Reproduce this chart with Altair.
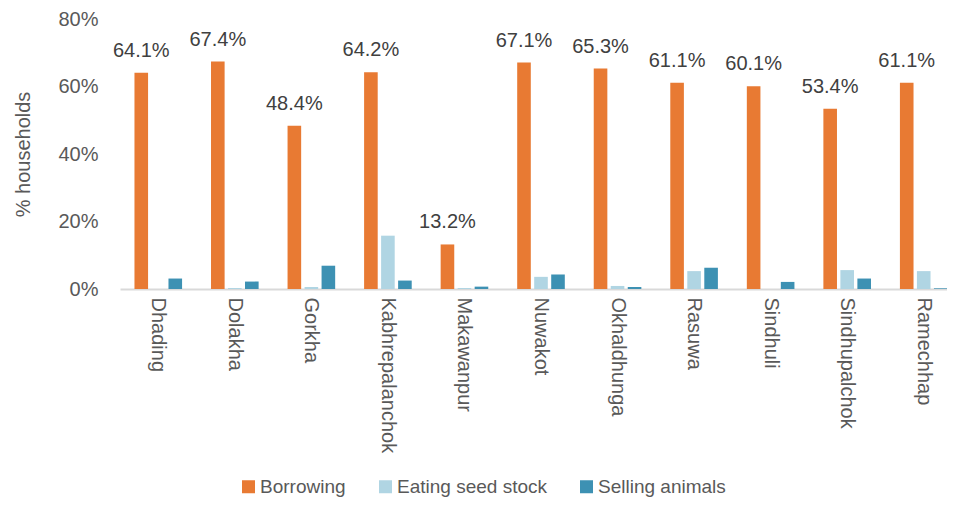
import altair as alt
import pandas as pd

districts = ["Dhading", "Dolakha", "Gorkha", "Kabhrepalanchok", "Makawanpur", "Nuwakot",
             "Okhaldhunga", "Rasuwa", "Sindhuli", "Sindhupalchok", "Ramechhap"]
borrowing = [64.1, 67.4, 48.4, 64.2, 13.2, 67.1, 65.3, 61.1, 60.1, 53.4, 61.1]
eating_seed = [0.0, 0.3, 0.6, 15.8, 0.3, 3.6, 0.9, 5.3, 0.0, 5.6, 5.3]
selling_animals = [3.1, 2.2, 6.9, 2.5, 0.7, 4.3, 0.6, 6.3, 2.1, 3.1, 0.2]
series = ["Borrowing", "Eating seed stock", "Selling animals"]
colors = ["#E87A33", "#B0D5E3", "#3D91B3"]

rows = []
for i, d in enumerate(districts):
    for s, vals in zip(series, [borrowing, eating_seed, selling_animals]):
        rows.append({"district": d, "series": s, "value": vals[i] / 100.0})
df = pd.DataFrame(rows)

FONT = "Liberation Sans"

x = alt.X("district:N", sort=districts, title=None,
          scale=alt.Scale(paddingInner=0.378, paddingOuter=0.189, range=[0, 842]),
          axis=alt.Axis(labelAngle=90, labelAlign="left", labelBaseline="middle",
                        labelFontSize=20, labelColor="#595959", labelFont=FONT,
                        ticks=False, domainColor="#D9D9D9", domainWidth=2,
                        labelPadding=8))
xo = alt.XOffset("series:N", sort=series, scale=alt.Scale(paddingInner=0.2, paddingOuter=0))
y = alt.Y("value:Q", title="% households",
          scale=alt.Scale(domain=[0, 0.8]),
          axis=alt.Axis(format=".0%", values=[0, 0.2, 0.4, 0.6, 0.8], grid=False,
                        domain=False, ticks=False, labelPadding=22,
                        labelFontSize=20, labelColor="#595959", labelFont=FONT,
                        titleFontSize=20, titleColor="#595959", titleFont=FONT,
                        titleFontWeight="normal", titlePadding=24))

bars = alt.Chart(df).mark_bar().encode(
    x=x, xOffset=xo, y=y,
    color=alt.Color("series:N", sort=series, title=None,
                    scale=alt.Scale(domain=series, range=colors),
                    legend=alt.Legend(orient="none", direction="horizontal",
                                      legendX=119, legendY=458,
                                      symbolType="square", symbolSize=169,
                                      symbolStrokeWidth=0, labelOffset=2,
                                      labelFontSize=19, labelColor="#595959",
                                      labelFont=FONT, columnPadding=30)),
)

labels = alt.Chart(df).transform_filter(
    alt.datum.series == "Borrowing"
).mark_text(fontSize=20, font=FONT, color="#404040", baseline="alphabetic", dy=-16).encode(
    x=x, xOffset=xo, y=y,
    text=alt.Text("value:Q", format=".1%"),
)

chart = alt.layer(bars, labels).properties(
    width=827, height=270,
    autosize=alt.AutoSizeParams(type="none"),
    padding={"left": 112, "top": 11, "right": 0, "bottom": 208},
).configure_view(stroke=None)

chart.save("out.html", embed_options={"renderer": "svg", "actions": False})
